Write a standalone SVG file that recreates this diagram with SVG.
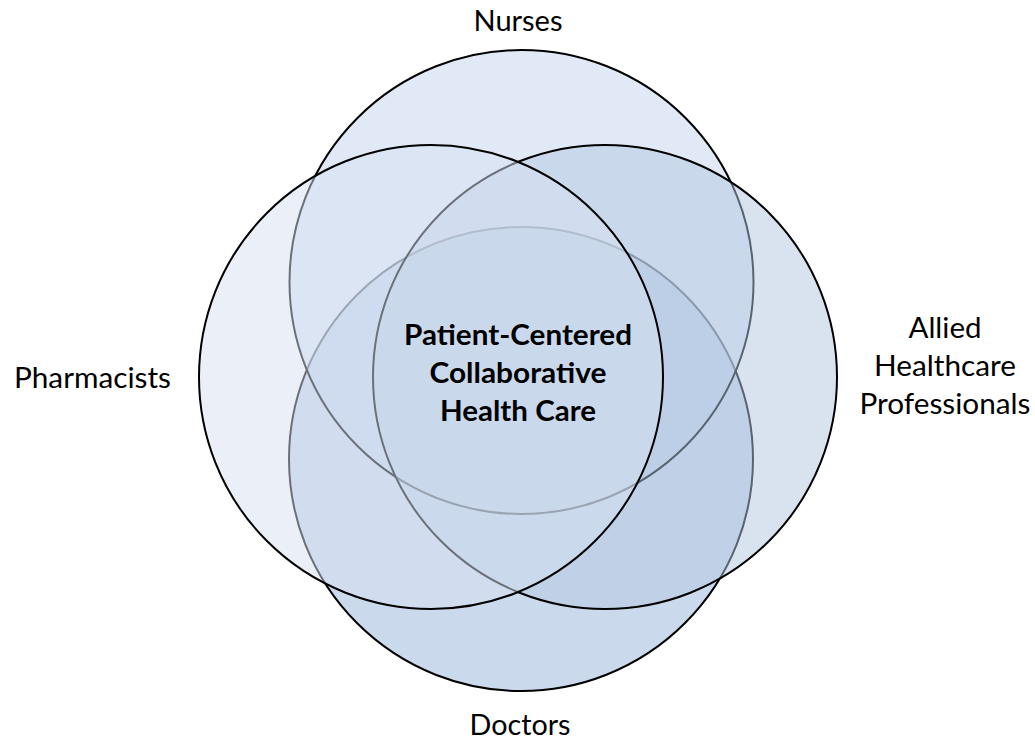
<svg xmlns="http://www.w3.org/2000/svg" width="1035" height="742" viewBox="0 0 1035 742">
  <style>
    .c { stroke: #000; stroke-width: 2; fill-opacity: 0.5; }
    .lbl { font-family: Lato, "Liberation Sans", sans-serif; font-size: 29px; fill: #000; text-anchor: middle; }
    .ctr { font-family: Lato, "Liberation Sans", sans-serif; font-size: 29px; font-weight: bold; fill: #000; text-anchor: middle; }
  </style>
  <rect width="1035" height="742" fill="#fff"/>
  <g id="doctors">
    <circle class="c" cx="521" cy="459" r="232" fill="#95b3d9"/>
    <text class="lbl" x="520" y="735" textLength="101" lengthAdjust="spacingAndGlyphs">Doctors</text>
  </g>
  <g id="nurses">
    <circle class="c" cx="521.5" cy="282" r="232" fill="#c1d3eb"/>
    <text class="lbl" x="518" y="31" textLength="89" lengthAdjust="spacingAndGlyphs">Nurses</text>
  </g>
  <g id="allied">
    <circle class="c" cx="605" cy="377" r="232" fill="#b3c7e1"/>
    <text class="lbl" x="945" y="338" textLength="73" lengthAdjust="spacingAndGlyphs">Allied</text>
    <text class="lbl" x="945" y="376" textLength="142" lengthAdjust="spacingAndGlyphs">Healthcare</text>
    <text class="lbl" x="945" y="414" textLength="171" lengthAdjust="spacingAndGlyphs">Professionals</text>
  </g>
  <g id="pharmacists">
    <circle class="c" cx="431" cy="377" r="232" fill="#d7e1f1"/>
    <text class="lbl" x="92.5" y="388" textLength="157" lengthAdjust="spacingAndGlyphs">Pharmacists</text>
  </g>
  <g id="connectors"></g>
  <g id="center">
    <text class="ctr" x="518" y="345" textLength="228" lengthAdjust="spacingAndGlyphs">Patient-Centered</text>
    <text class="ctr" x="518" y="383" textLength="177" lengthAdjust="spacingAndGlyphs">Collaborative</text>
    <text class="ctr" x="518" y="421" textLength="156" lengthAdjust="spacingAndGlyphs">Health Care</text>
  </g>
</svg>
